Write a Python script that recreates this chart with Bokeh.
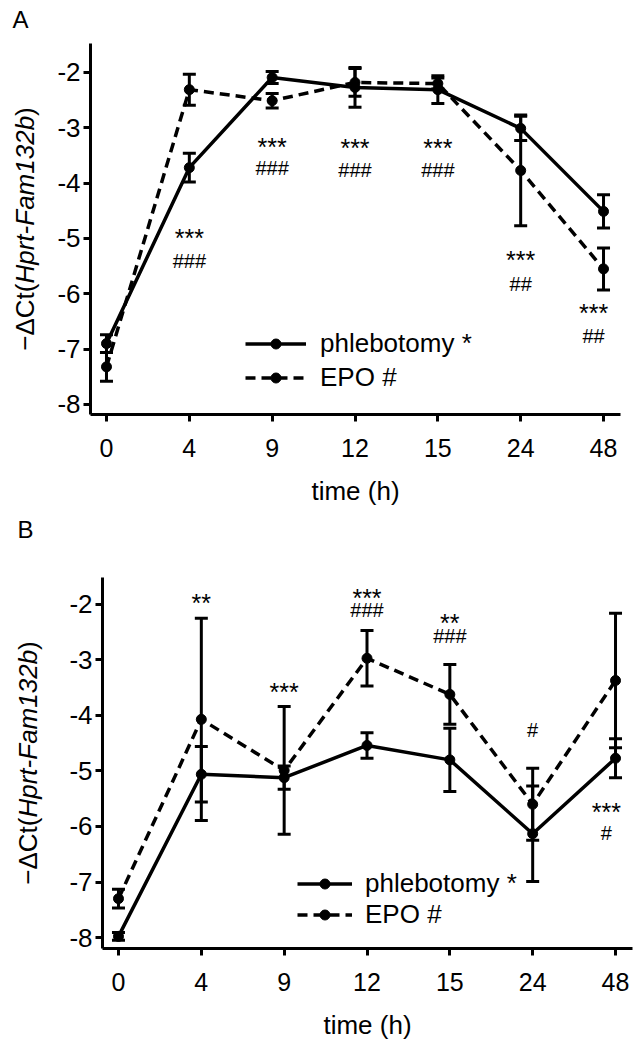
import numpy as np
from bokeh.plotting import figure
from bokeh.models import (ColumnDataSource, Whisker, TeeHead, Label, Legend,
                          LegendItem, FixedTicker, Range1d)
from bokeh.layouts import row
from bokeh.embed import file_html
from bokeh.resources import INLINE
from bokeh.core.properties import value

# ---------------- data ----------------
time_labels = ["0", "4", "9", "12", "15", "24", "48"]
y_ticks = [-8, -7, -6, -5, -4, -3, -2]

a_phleb = [-6.90, -3.72, -2.09, -2.27, -2.31, -3.01, -4.51]
a_phleb_err = [0.16, 0.26, 0.11, 0.36, 0.25, 0.22, 0.30]
a_epo = [-7.32, -2.31, -2.51, -2.18, -2.20, -3.77, -5.55]
a_epo_err = [0.26, 0.28, 0.13, 0.25, 0.10, 1.00, 0.38]

b_phleb = [-7.98, -5.06, -5.12, -4.54, -4.80, -6.13, -4.77]
b_phleb_err = [0.07, 0.50, 0.21, 0.23, 0.57, 0.86, 0.35]
b_epo = [-7.30, -4.07, -4.99, -2.97, -3.62, -5.60, -3.37]
b_epo_err = [0.17, 1.82, 1.15, 0.50, 0.54, 0.65, 1.21]

a_sig_text = ["***", "###", "***", "###", "***", "###", "***", "###", "***", "##", "***", "##"]
a_sig_x = [1, 1, 2, 2, 3, 3, 4, 4, 5, 5, 5.88, 5.88]
a_sig_y = [-4.91, -5.44, -3.27, -3.77, -3.28, -3.80, -3.28, -3.80, -5.31, -5.85, -6.27, -6.79]

b_sig_text = ["**", "***", "***", "###", "**", "###", "#", "***", "#"]
b_sig_x = [1, 2, 3, 3, 4, 4, 5, 5.89, 5.89]
b_sig_y = [-1.89, -3.50, -1.80, -2.13, -2.25, -2.61, -4.29, -5.66, -6.16]

series_labels = ["phlebotomy *", "EPO #"]
x_label = "time (h)"
y_label_parts = ["\u2212\u0394Ct(", "Hprt-Fam132b", ")"]

FONT = "Liberation Sans"
PAGE_W = 642


def panel(letter, phleb, phleb_err, epo, epo_err, sig_text, sig_x, sig_y,
          fig_top, fig_h, side_w, frame, xr, yr, ylab_x, letter_pos,
          leg_left, leg_bottom, leg_row, leg_glyph_w, leg_standoff):
    fl, fr, ft, fb = frame
    main_w = PAGE_W - side_w
    p = figure(width=main_w, height=fig_h,
               x_range=Range1d(*xr), y_range=Range1d(*yr),
               output_backend="svg", toolbar_location=None,
               min_border_left=fl - side_w, min_border_right=PAGE_W - fr,
               min_border_top=ft - fig_top,
               min_border_bottom=fig_h - (fb - fig_top),
               background_fill_color="white", border_fill_color="white")
    p.frame_align = False
    p.xgrid.visible = False
    p.ygrid.visible = False
    p.outline_line_color = None

    for ax in (p.xaxis[0], p.yaxis[0]):
        ax.axis_line_width = 3
        ax.axis_line_color = "black"
        ax.major_tick_line_width = 3
        ax.major_tick_line_color = "black"
        ax.major_tick_out = 7
        ax.major_tick_in = 0
        ax.minor_tick_line_color = None
        ax.major_label_text_font = FONT
        ax.major_label_text_font_size = "25px"
        ax.major_label_text_color = "black"

    idx = list(range(len(time_labels)))
    p.xaxis.ticker = FixedTicker(ticks=idx)
    p.xaxis.major_label_overrides = {i: t for i, t in enumerate(time_labels)}
    p.xaxis.major_label_standoff = 17
    p.xaxis.axis_label = x_label
    p.xaxis.axis_label_text_font = FONT
    p.xaxis.axis_label_text_font_size = "26px"
    p.xaxis.axis_label_text_font_style = "normal"
    p.xaxis.axis_label_text_color = "black"
    p.xaxis.axis_label_standoff = 16

    p.yaxis.ticker = FixedTicker(ticks=y_ticks)
    p.yaxis.major_label_overrides = {v: str(v) for v in y_ticks}
    p.yaxis.major_label_standoff = 3
    p.yaxis.major_label_text_font_size = "26px"
    p.yaxis.axis_label = None

    ys = (fb - ft) / (yr[1] - yr[0])

    src = ColumnDataSource(dict(
        x=idx, phleb=phleb, epo=epo,
        p_lo=[v - e for v, e in zip(phleb, phleb_err)],
        p_hi=[v + e for v, e in zip(phleb, phleb_err)],
        e_lo=[v - e for v, e in zip(epo, epo_err)],
        e_hi=[v + e for v, e in zip(epo, epo_err)],
    ))

    for lo, hi in (("p_lo", "p_hi"), ("e_lo", "e_hi")):
        w = Whisker(source=src, base="x", lower=lo, upper=hi,
                    line_width=3, line_color="black",
                    upper_head=TeeHead(size=13, line_width=3, line_color="black"),
                    lower_head=TeeHead(size=13, line_width=3, line_color="black"))
        p.add_layout(w)

    lp = p.line("x", "phleb", source=src, line_width=3.5, line_color="black")
    sp = p.scatter("x", "phleb", source=src, size=10, color="black")
    le = p.line("x", "epo", source=src, line_width=3.5, line_color="black",
                line_dash="10 6")
    se = p.scatter("x", "epo", source=src, size=10, color="black")

    # significance markers (values mark glyph centres)
    sizes, ybase = [], []
    for t, yv in zip(sig_text, sig_y):
        if t.startswith("*"):
            sizes.append("25px")
            ybase.append(yv - 4.5 / ys)
        else:
            sizes.append("20px")
            ybase.append(yv + 2.0 / ys)
    ssrc = ColumnDataSource(dict(x=sig_x, y=ybase, text=sig_text, size=sizes))
    p.text("x", "y", text="text", source=ssrc, text_font=value(FONT),
           text_font_size="size", text_align="center",
           text_baseline="alphabetic", text_color="black")

    # legend
    leg = Legend(items=[LegendItem(label=series_labels[0], renderers=[lp, sp]),
                        LegendItem(label=series_labels[1], renderers=[le, se])],
                 location=(leg_left - fl, fb - leg_bottom),
                 glyph_width=leg_glyph_w, glyph_height=25,
                 label_height=leg_row, spacing=0, padding=0, margin=0,
                 label_standoff=leg_standoff, label_text_font=FONT,
                 label_text_font_size="26px", label_text_color="black",
                 background_fill_alpha=0, border_line_alpha=0)
    p.add_layout(leg)

    # side strip holding the y label and panel letter (pixel coordinates)
    s = figure(width=side_w, height=fig_h,
               x_range=Range1d(0, side_w), y_range=Range1d(fig_h, 0),
               output_backend="svg", toolbar_location=None,
               x_axis_location=None, y_axis_location=None,
               min_border=0, min_border_left=0, min_border_right=0,
               min_border_top=0, min_border_bottom=0,
               background_fill_color="white", border_fill_color="white")
    s.frame_align = False
    s.xgrid.visible = False
    s.ygrid.visible = False
    s.outline_line_color = None

    em = 26
    widths = [2.585 * em, 6.446 * em, 0.333 * em]
    c = (ft + fb) / 2 - fig_top
    start = c + sum(widths) / 2
    styles = ["normal", "italic", "normal"]
    for part, wpx, st in zip(y_label_parts, widths, styles):
        s.add_layout(Label(x=ylab_x, y=start, text=part,
                           angle=np.pi / 2, text_font=FONT,
                           text_font_size="26px", text_font_style=st,
                           text_align="left", text_baseline="alphabetic",
                           text_color="black"))
        start -= wpx
    s.add_layout(Label(x=letter_pos[0], y=letter_pos[1] - fig_top, text=letter,
                       text_font=FONT, text_font_size="24px",
                       text_align="left", text_baseline="alphabetic",
                       text_color="black"))
    return row(s, p)


rA = panel("A", a_phleb, a_phleb_err, a_epo, a_epo_err,
           a_sig_text, a_sig_x, a_sig_y,
           fig_top=0, fig_h=514, side_w=50, frame=(90, 620, 43, 414),
           xr=(-0.193, 6.205), yr=(-8.181, -1.476),
           ylab_x=24, letter_pos=(12, 19),
           leg_left=245, leg_bottom=394, leg_row=34,
           leg_glyph_w=61, leg_standoff=14)

rB = panel("B", b_phleb, b_phleb_err, b_epo, b_epo_err,
           b_sig_text, b_sig_x, b_sig_y,
           fig_top=514, fig_h=535, side_w=55, frame=(102, 632, 577, 948),
           xr=(-0.193, 6.205), yr=(-8.198, -1.514),
           ylab_x=27, letter_pos=(17, 529),
           leg_left=297, leg_bottom=930, leg_row=30,
           leg_glyph_w=55, leg_standoff=13)

open("out.html", "w").write(file_html([rA, rB], INLINE))
